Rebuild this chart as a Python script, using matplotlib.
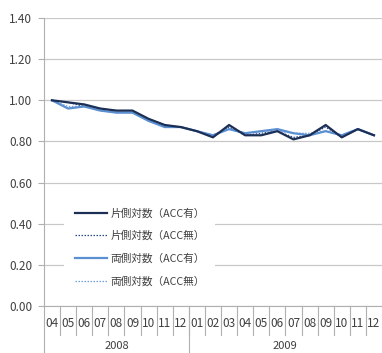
import matplotlib
matplotlib.use("Agg")
import matplotlib.pyplot as plt
from matplotlib.transforms import blended_transform_factory

plt.rcParams['font.family'] = ['Noto Sans CJK JP', 'DejaVu Sans']

months = ["04", "05", "06", "07", "08", "09", "10", "11", "12",
          "01", "02", "03", "04", "05", "06", "07", "08", "09", "10", "11", "12"]
years = ["2008", "2009"]
year_counts = [9, 12]

one_side_acc = [1.00, 0.99, 0.98, 0.96, 0.95, 0.95, 0.91, 0.88, 0.87, 0.85, 0.82,
                0.88, 0.83, 0.83, 0.85, 0.81, 0.83, 0.88, 0.82, 0.86, 0.83]
one_side_noacc = [1.00, 0.99, 0.97, 0.96, 0.95, 0.95, 0.91, 0.88, 0.87, 0.85, 0.83,
                  0.87, 0.83, 0.84, 0.85, 0.82, 0.83, 0.87, 0.82, 0.86, 0.83]
two_side_acc = [1.00, 0.96, 0.97, 0.95, 0.94, 0.94, 0.90, 0.87, 0.87, 0.85, 0.83,
                0.86, 0.84, 0.85, 0.86, 0.84, 0.83, 0.85, 0.83, 0.86, 0.83]
two_side_noacc = [1.00, 0.97, 0.97, 0.95, 0.94, 0.94, 0.90, 0.87, 0.87, 0.85, 0.83,
                  0.86, 0.84, 0.85, 0.85, 0.84, 0.84, 0.85, 0.83, 0.86, 0.83]
labels = ["片側対数（ACC有）", "片側対数（ACC無）", "両側対数（ACC有）", "両側対数（ACC無）"]

fig = plt.figure(figsize=(3.82, 3.53), dpi=100)
ax = fig.add_axes([0.115, 0.133, 0.885, 0.816])

x = list(range(len(months)))
ax.plot(x, one_side_acc, color="#1c2f55", lw=1.6, label=labels[0], zorder=4)
ax.plot(x, one_side_noacc, color="#2a4a8a", lw=0.9, ls=(0, (1.2, 1.2)), label=labels[1], zorder=3)
ax.plot(x, two_side_acc, color="#5a8fd2", lw=1.6, label=labels[2], zorder=3.5)
ax.plot(x, two_side_noacc, color="#6f9fd8", lw=0.9, ls=(0, (1.2, 1.2)), label=labels[3], zorder=3)

ax.set_xlim(-0.5, len(months) - 0.5)
ax.set_ylim(0, 1.4)
yt = [0, 0.2, 0.4, 0.6, 0.8, 1.0, 1.2, 1.4]
ax.set_yticks(yt)
ax.set_yticklabels([f"{v:.2f}" for v in yt])
ax.yaxis.grid(True, color="#c8c8c8", lw=0.9)
ax.set_axisbelow(True)

for side in ["top", "right"]:
    ax.spines[side].set_visible(False)
ax.spines["left"].set_color("#b0b0b0")
ax.spines["bottom"].set_color("#b0b0b0")
ax.tick_params(axis="y", length=4, color="#b0b0b0", labelsize=8.5, labelcolor="#404040", pad=4.5)

ax.set_xticks(x)
ax.set_xticklabels(months)
ax.tick_params(axis="x", length=0, labelsize=8.5, labelcolor="#404040", pad=8)

trans = blended_transform_factory(ax.transData, ax.transAxes)
# month separators
for b in range(1, len(months)):
    ax.plot([b - 0.5, b - 0.5], [0, -0.10], transform=trans, color="#b0b0b0", lw=0.8, clip_on=False)
# year separators and year labels
start = 0
edges = [-0.5]
for cnt in year_counts:
    start += cnt
    edges.append(start - 0.5)
for e in edges[:-1]:
    ax.plot([e, e], [0, -0.17], transform=trans, color="#b0b0b0", lw=0.8, clip_on=False)
for i, yr in enumerate(years):
    mid = (edges[i] + edges[i + 1]) / 2
    ax.text(mid, -0.138, yr, transform=trans, ha="center", va="center", fontsize=8, color="#404040")

leg = ax.legend(loc="lower left", bbox_to_anchor=(0.044, 0.012), frameon=True, fontsize=7.7,
                handlelength=3.0, labelspacing=1.15, borderpad=1.0, handletextpad=0.3)
leg.get_frame().set_facecolor("white")
leg.get_frame().set_edgecolor("none")
leg.get_frame().set_alpha(1)
for t in leg.get_texts():
    t.set_color("#404040")

fig.savefig("out.png", dpi=100)
